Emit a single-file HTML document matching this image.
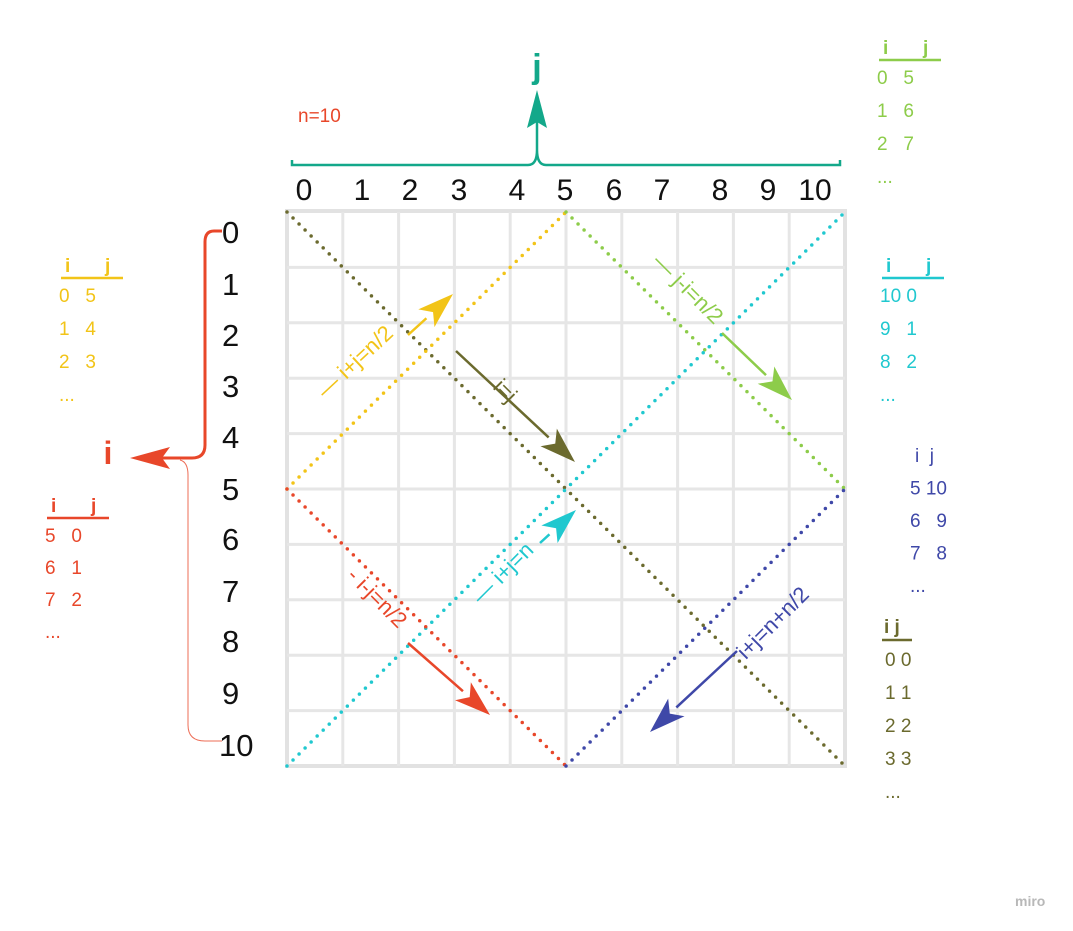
<!DOCTYPE html>
<html><head><meta charset="utf-8"><style>
body{margin:0;background:#fff;}
svg{display:block;font-family:"Liberation Sans","DejaVu Sans",sans-serif;}
</style></head><body>
<svg id="s" width="1073" height="931" viewBox="0 0 1073 931" xmlns="http://www.w3.org/2000/svg">
<rect x="287" y="211" width="558" height="555" fill="#fff" stroke="#e2e2e2" stroke-width="4"/>
<g id="grid" stroke="#e6e6e6" stroke-width="3"></g>
<g id="diag"></g>
<g id="arrows"></g>
<g id="labels"></g>
</svg>
<script>
const NS="http://www.w3.org/2000/svg";
const svg=document.getElementById('s');
const gridIdx=[0,1,2,3,4,5,6,7,8,9,10];
const colLabelX=[304,362,410,459,517,565,614,662,720,768,815];
const rowLabelY=[231,283,334,385,436,488,538,590,640,692,744];
// diagonal lines in (i,j) index coordinates
const lineNames=['i-equals-j','i-plus-j-n-half','j-minus-i-n-half','i-plus-j-n','i-minus-j-n-half','i-plus-j-n-plus-n-half'];
const lineColors=['#6b6a2e','#f2c418','#8dcc4a','#20c8cf','#e8472a','#3f48a8'];
const lineStart=[[0,0],[5,0],[0,5],[10,0],[5,0],[10,5]];
const lineEnd=[[10,10],[0,5],[5,10],[0,10],[10,5],[5,10]];
const X0=287,X1=845,Y0=212,Y1=766;
const xs=j=>X0+(X1-X0)*j/10, ys=i=>Y0+(Y1-Y0)*i/10;
function el(t,a,p){const e=document.createElementNS(NS,t);for(const k in a)e.setAttribute(k,a[k]);(p||svg).appendChild(e);return e;}
const grid=document.getElementById('grid');
gridIdx.slice(1,10).forEach(k=>{
 const v=el('line',{x1:xs(k),y1:Y0,x2:xs(k),y2:Y1},grid);
 
 
 const h=el('line',{x1:X0,y1:ys(k),x2:X1,y2:ys(k)},grid);
 
 
});
const diag=document.getElementById('diag');
lineNames.forEach((n,k)=>{
 const l=el('line',{x1:xs(lineStart[k][1]),y1:ys(lineStart[k][0]),x2:xs(lineEnd[k][1]),y2:ys(lineEnd[k][0]),stroke:lineColors[k],'stroke-width':3.5,'stroke-dasharray':'0 8.5','stroke-linecap':'round'},diag);
 
 
});
const lab=document.getElementById('labels');
gridIdx.forEach(k=>{
 const t=el('text',{x:colLabelX[k],y:200,'font-size':30,'text-anchor':'middle',fill:'#111'},lab);t.textContent=k;
 
 
 const u=el('text',{x:k==10?219:222,y:rowLabelY[k]+12,'font-size':31,fill:'#111'},lab);u.textContent=k;
 
 
});
// arrows + rotated labels
const ar=document.getElementById('arrows');
function arrow(x1,y1,x2,y2,c,name){
 const a=Math.atan2(y2-y1,x2-x1),L=36,W=12;
 const bx=x2-L*Math.cos(a),by=y2-L*Math.sin(a);
 const g=el('g',{},ar);
 
 
 el('line',{x1,y1,x2:bx,y2:by,stroke:c,'stroke-width':2.5},g);
 const px=-Math.sin(a)*W,py=Math.cos(a)*W;
 el('path',{d:`M${x2},${y2}L${bx+px},${by+py}L${bx+L*0.25*Math.cos(a)},${by+L*0.25*Math.sin(a)}L${bx-px},${by-py}Z`,fill:c},g);
}
function rtext(x,y,ang,s,c,name){
 const t=el('text',{x,y,'font-size':22,fill:c,'text-anchor':'middle',transform:`rotate(${ang} ${x} ${y})`},ar);
 t.textContent=s;
 
 
}
arrow(408,335,453,294,'#f2c418','arrow-yellow');rtext(360,367,-43,'— i+j=n/2','#f2c418','label-i-plus-j-n-half');
arrow(456,351,575,462,'#6b6a2e','arrow-olive');rtext(500,396,45,'i=j','#6b6a2e','label-i-equals-j');
arrow(722,333,792,400,'#8dcc4a','arrow-green');rtext(683,294,45,'— j-i=n/2','#8dcc4a','label-j-minus-i-n-half');
arrow(540,543,576,510,'#20c8cf','arrow-cyan');rtext(508,578,-45,'— i+j=n','#20c8cf','label-i-plus-j-n');
arrow(408,643,490,715,'#e8472a','arrow-red');rtext(372,603,45,'- i-j=n/2','#e8472a','label-i-minus-j-n-half');
arrow(737,651,650,732,'#3f48a8','arrow-blue');rtext(778,628,-45,'i+j=n+n/2','#3f48a8','label-i-plus-j-n-plus-n-half');
// tables
function table(x,y,gap,rows,c,name,ulw,dx){
 const g=el('g',{fill:c,'font-size':19},lab);
 
 
 const h1=el('text',{x:x+(dx||6),y,'font-weight':'bold'},g);h1.textContent='i';
 const h2=el('text',{x:x+ulw-14,y,'font-weight':'bold'},g);h2.textContent='j';
 el('line',{x1:x+2,y1:y+6,x2:x+ulw+4,y2:y+6,stroke:c,'stroke-width':2.5},g);
 rows.forEach((r,k)=>{const t=el('text',{x,y:y+30+k*gap},g);t.textContent=r;});
}
table(877,54,33,['0\u00a0\u00a0\u00a05','1\u00a0\u00a0\u00a06','2\u00a0\u00a0\u00a07','...'],'#8dcc4a','table-green',60);
table(880,272,33,['10\u00a00','9\u00a0\u00a0\u00a01','8\u00a0\u00a0\u00a02','...'],'#20c8cf','table-cyan',60);
table(59,272,33,['0\u00a0\u00a0\u00a05','1\u00a0\u00a0\u00a04','2\u00a0\u00a0\u00a03','...'],'#f2c418','table-yellow',60);
table(45,512,32,['5\u00a0\u00a0\u00a00','6\u00a0\u00a0\u00a01','7\u00a0\u00a0\u00a02','...'],'#e8472a','table-red',60);
(function(){const g=el('g',{fill:'#3f48a8','font-size':19},lab);
 
 
 ['i\u00a0\u00a0j','5\u00a010','6\u00a0\u00a0\u00a09','7\u00a0\u00a0\u00a08','...'].forEach((r,k)=>{const t=el('text',{x:k==0?915:910,y:462+k*32.5},g);t.textContent=r;});})();
(function(){const g=el('g',{fill:'#6b6a2e','font-size':19},lab);
 
 
 const h=el('text',{x:884,y:633,'font-weight':'bold'},g);h.textContent='i\u00a0j';
 el('line',{x1:882,y1:640,x2:912,y2:640,stroke:'#6b6a2e','stroke-width':2.5},g);
 ['0\u00a00','1\u00a01','2\u00a02','3\u00a03','...'].forEach((r,k)=>{const t=el('text',{x:885,y:666+k*33},g);t.textContent=r;});})();
// top j bracket
(function(){const g=el('g',{},lab);
 
 
 el('path',{d:'M292,160 L292,165 L528,165 Q537,165 537,150 L537,118 M537,150 Q537,165 546,165 L840,165 L840,160',fill:'none',stroke:'#13a88a','stroke-width':2.5},g);
 el('path',{d:'M537,90 L547,128 L537,122 L527,128Z',fill:'#13a88a'},g);
 const j=el('text',{x:537,y:78,'font-size':34,'font-weight':'bold',fill:'#13a88a','text-anchor':'middle'},g);j.textContent='j';
 
 
})();
const nt=el('text',{x:298,y:122,'font-size':19,fill:'#e8472a'},lab);nt.textContent='n=10';


// left i bracket
(function(){const g=el('g',{},lab);
 
 
 el('path',{d:'M222,231 L214,231 Q205,231 205,242 L205,445 Q205,458 192,458 L160,458',fill:'none',stroke:'#e8472a','stroke-width':3},g);
 el('path',{d:'M130,458 L170,447 L162,458 L170,469Z',fill:'#e8472a'},g);
 el('path',{d:'M180,460 Q188,462 188,475 L188,725 Q188,741 205,741 L222,741',fill:'none',stroke:'#e8472a','stroke-width':1,'stroke-opacity':0.8},g);
 const i=el('text',{x:108,y:464,'font-size':32,'font-weight':'bold',fill:'#e8472a','text-anchor':'middle'},g);i.textContent='i';
 
 
})();
const m=el('text',{x:1015,y:906,'font-size':14,fill:'#b8b8b8','font-weight':'bold'},lab);m.textContent='miro';


</script>
</body></html>
